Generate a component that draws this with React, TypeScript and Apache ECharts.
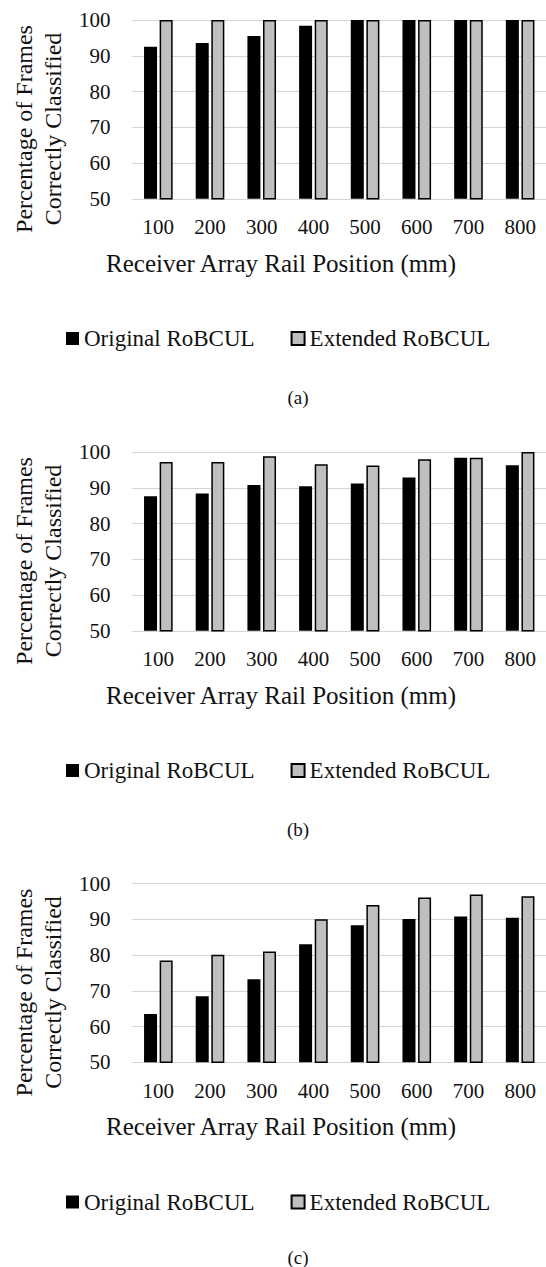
import React, { useEffect, useRef } from "react";
import * as echarts from "echarts";

const categories = ["100", "200", "300", "400", "500", "600", "700", "800"];
const seriesNames = ["Original RoBCUL", "Extended RoBCUL"];

const aOriginal = [92.5, 93.6, 95.5, 98.4, 100, 100, 100, 100];
const aExtended = [100, 100, 100, 100, 100, 100, 100, 100];
const bOriginal = [87.6, 88.4, 90.8, 90.4, 91.2, 92.9, 98.4, 96.3];
const bExtended = [97.2, 97.2, 98.8, 96.6, 96.2, 98.0, 98.4, 100];
const cOriginal = [63.5, 68.5, 73.2, 83.0, 88.3, 90.1, 90.8, 90.4];
const cExtended = [78.5, 80.1, 81.0, 90.0, 94.0, 96.1, 96.9, 96.4];

const panels = [
  { caption: "(a)", original: aOriginal, extended: aExtended },
  { caption: "(b)", original: bOriginal, extended: bExtended },
  { caption: "(c)", original: cOriginal, extended: cExtended },
];

const yTicks = { min: 50, max: 100, interval: 10 };
const xTitle = "Receiver Array Rail Position (mm)";
const yTitle = "Percentage of Frames\nCorrectly Classified";

const FONT = "Liberation Serif";
const TEXT = "#111";

export default function App() {
  const ref = useRef<HTMLDivElement>(null);
  useEffect(() => {
    document.body.style.margin = "0";
    if (!ref.current) return;
    const chart = echarts.init(ref.current, undefined, { renderer: "svg" });
    const offsets = [0, 432, 863.5];
    const captionY = [397, 829, 1257];
    const grids: any[] = [];
    const xAxes: any[] = [];
    const yAxes: any[] = [];
    const series: any[] = [];
    const legends: any[] = [];
    const graphics: any[] = [];
    panels.forEach((p, i) => {
      const o = offsets[i];
      grids.push({ left: 132.5, top: 20 + o, width: 420, height: 178.8 });
      xAxes.push({
        type: "category",
        gridIndex: i,
        data: categories,
        axisLine: { show: false },
        axisTick: { show: false },
        axisLabel: { fontSize: 21, fontFamily: FONT, color: TEXT, margin: 18 },
      });
      yAxes.push({
        type: "value",
        gridIndex: i,
        min: yTicks.min,
        max: yTicks.max,
        interval: yTicks.interval,
        axisLine: { show: false },
        axisTick: { show: false },
        axisLabel: { fontSize: 21, fontFamily: FONT, color: TEXT, margin: 22 },
        splitLine: { lineStyle: { color: "#d3d3d3", width: 1 } },
      });
      series.push({
        name: seriesNames[0],
        type: "bar",
        xAxisIndex: i,
        yAxisIndex: i,
        data: p.original,
        barWidth: 13,
        barGap: "20%",
        itemStyle: { color: "#000" },
      });
      series.push({
        name: seriesNames[1],
        type: "bar",
        xAxisIndex: i,
        yAxisIndex: i,
        data: p.extended,
        barWidth: 13,
        barGap: "20%",
        itemStyle: { color: "#bfbfbf", borderColor: "#000", borderWidth: 1.5 },
      });
      legends.push({
        data: seriesNames,
        top: 322 + o,
        left: 61,
        icon: "rect",
        itemWidth: 13,
        itemHeight: 13,
        itemGap: 36,
        selectedMode: false,
        textStyle: { fontSize: 23, fontFamily: FONT, color: TEXT },
      });
      graphics.push({
        type: "text",
        x: 281,
        y: 263 + o,
        style: {
          text: xTitle,
          fontSize: 25,
          fontFamily: FONT,
          fill: TEXT,
          align: "center",
          verticalAlign: "middle",
        },
      });
      graphics.push({
        type: "text",
        x: 38,
        y: 129 + o,
        rotation: Math.PI / 2,
        style: {
          text: yTitle,
          fontSize: 24,
          lineHeight: 29,
          fontFamily: FONT,
          fill: TEXT,
          align: "center",
          verticalAlign: "middle",
        },
      });
      graphics.push({
        type: "text",
        x: 298,
        y: captionY[i],
        style: {
          text: p.caption,
          fontSize: 19,
          fontFamily: FONT,
          fill: TEXT,
          align: "center",
          verticalAlign: "middle",
        },
      });
    });
    chart.setOption({
      animation: false,
      backgroundColor: "#fff",
      grid: grids,
      xAxis: xAxes,
      yAxis: yAxes,
      series,
      legend: legends,
      graphic: graphics,
    });
    return () => chart.dispose();
  }, []);
  return <div ref={ref} style={{ width: 546, height: 1267 }} />;
}
